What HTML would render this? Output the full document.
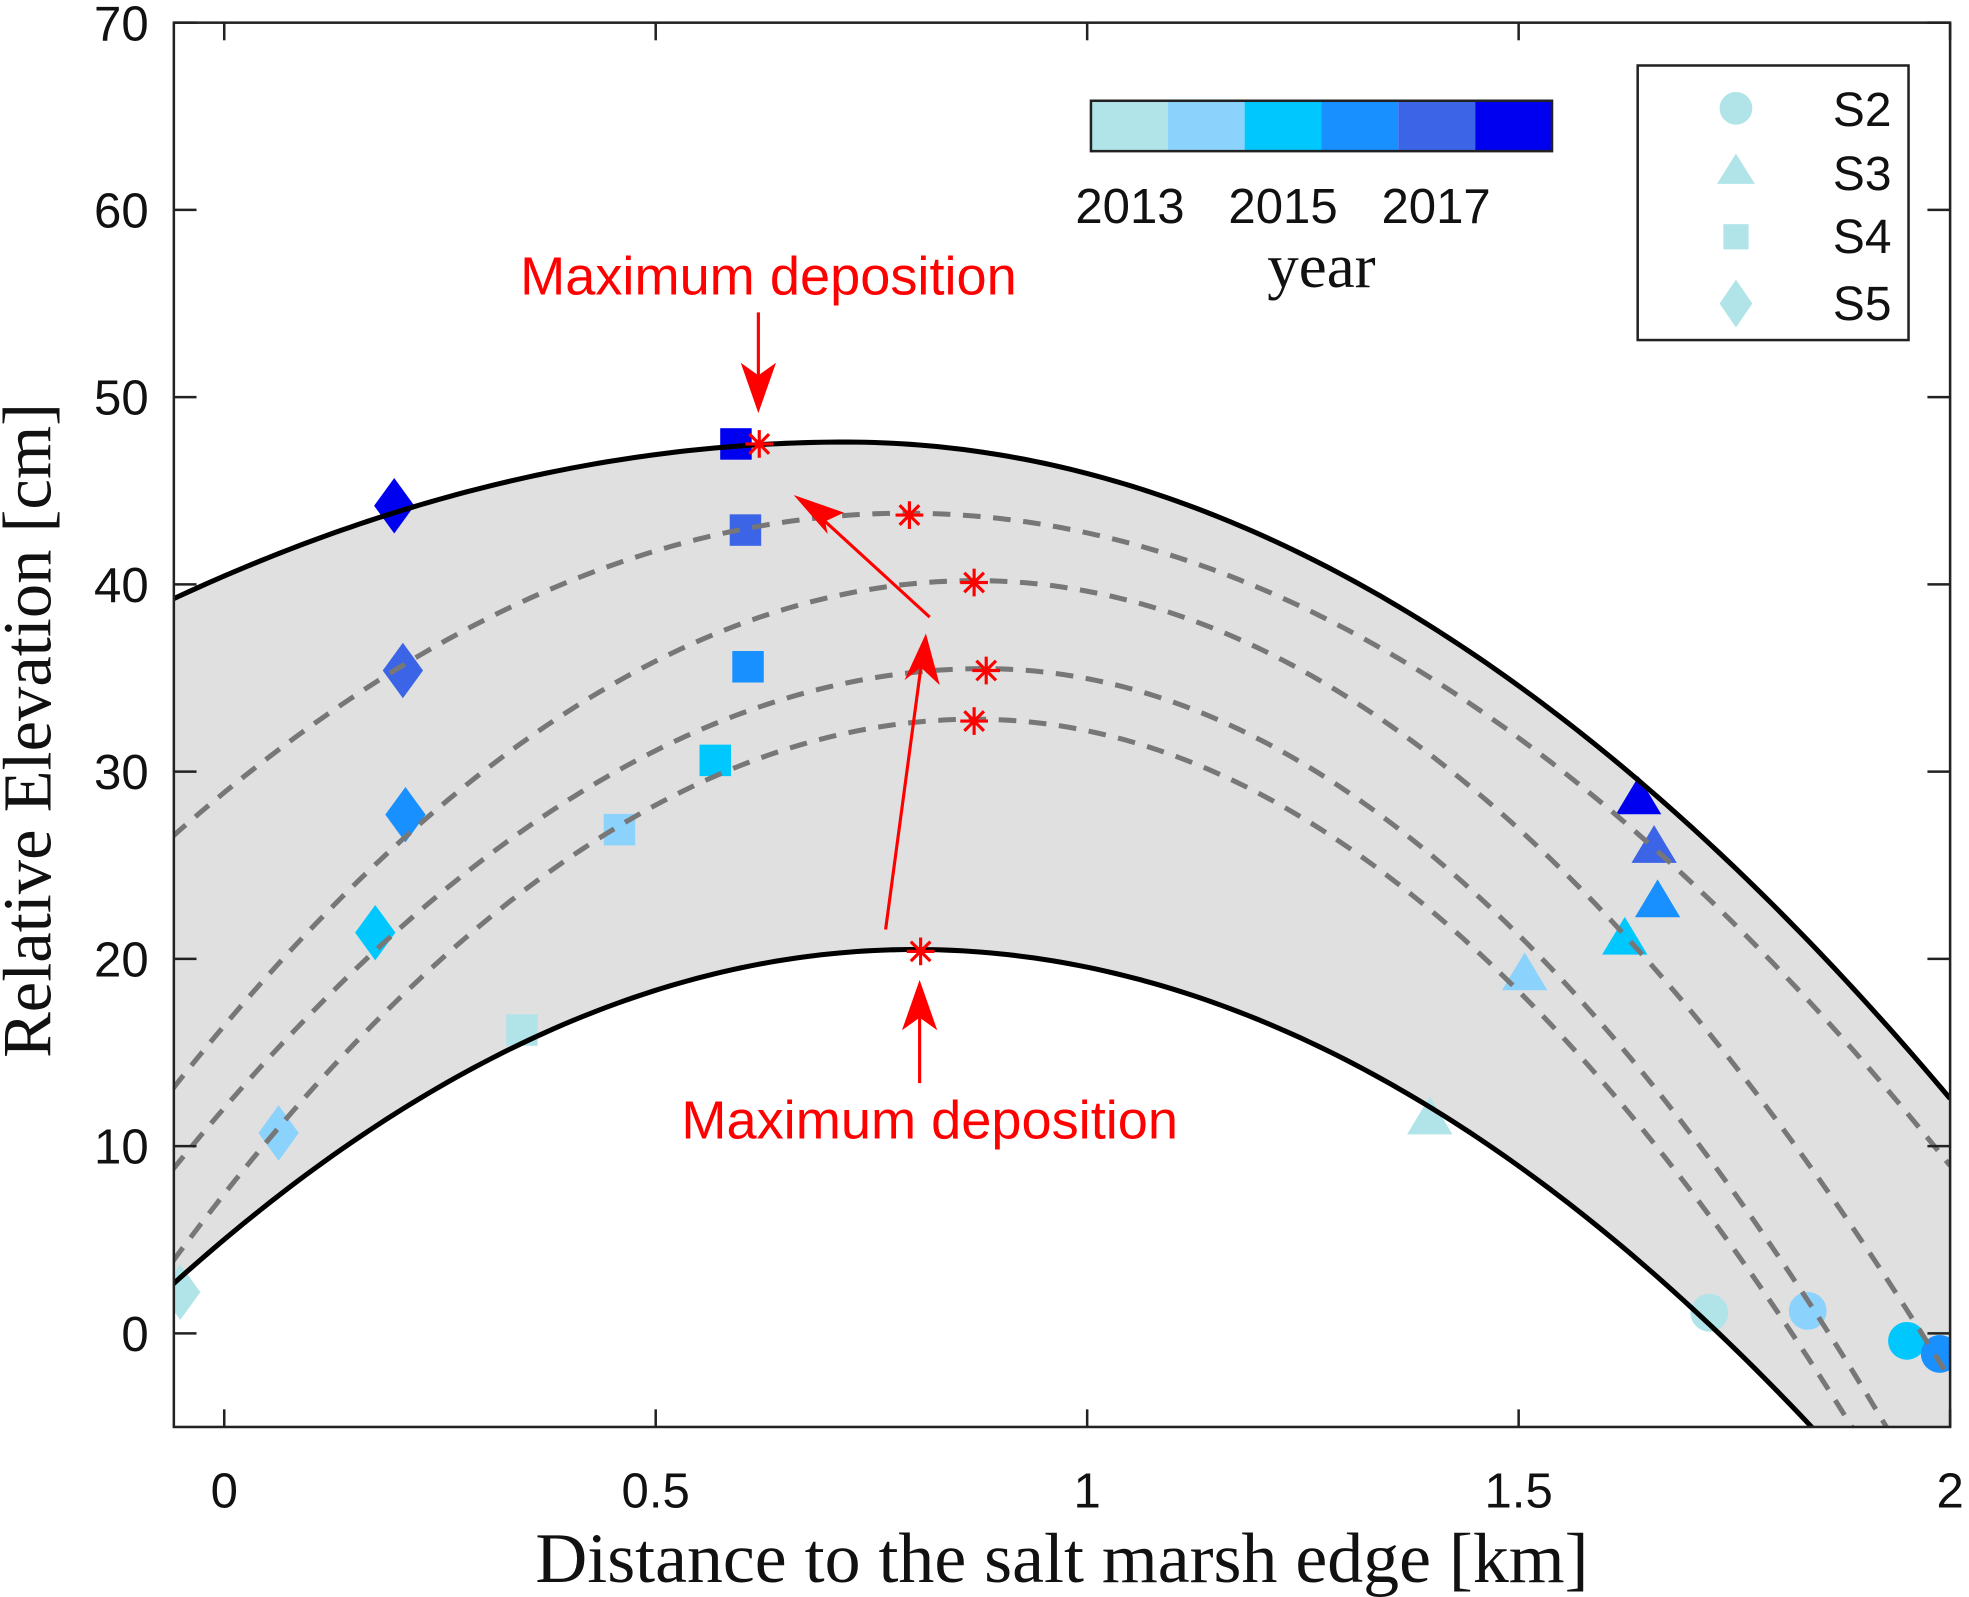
<!DOCTYPE html>
<html><head><meta charset="utf-8"><style>
html,body{margin:0;padding:0;background:#fff;}
svg{display:block;}
text{font-family:"Liberation Sans",Arial,sans-serif;}
.serif{font-family:"Liberation Serif","DejaVu Serif",serif;}
</style></head><body>
<svg id="chart" width="1969" height="1597" viewBox="0 0 1563 1268" preserveAspectRatio="none" xmlns="http://www.w3.org/2000/svg">
<defs><clipPath id="plotclip"><rect x="138" y="18" width="1410" height="1115"/></clipPath></defs>
<g id="plot" clip-path="url(#plotclip)"></g>
<g id="axes"></g>
<g id="overlay"></g>
</svg>
<script>
const yearColors=['#b0e4e8','#8bd2fc','#00c8ff','#1890ff','#3c64e6','#0000f0'];
const yearLabels=['2013','2015','2017'];
const xTicks=[0,0.5,1,1.5,2];
const yTicks=[0,10,20,30,40,50,60,70];
// envelope curves: [peakX, peakY, leftCurvature, rightCurvature]
const upperCurve=[0.72,47.6,13.8,21.4];
const lowerCurve=[0.8,20.5,24.2,23.6];
const dashedCurves=[[0.79,43.8,23.9,23.8],[0.87,40.2,31.4,33.4],[0.88,35.5,30.3,37],[0.87,32.8,33.5,36.6]];
// series: x (km), y (cm), year index
const s2x=[1.721,1.835,1.95,1.988], s2y=[1.1,1.2,-0.4,-1.1], s2yr=[0,1,2,3];
const s3x=[1.397,1.507,1.623,1.661,1.657,1.639], s3y=[11.5,19.2,21.1,23.1,26.0,28.6], s3yr=[0,1,2,3,4,5];
const s4x=[0.345,0.458,0.569,0.607,0.604,0.593], s4y=[16.2,26.9,30.6,35.6,42.9,47.5], s4yr=[0,1,2,3,4,5];
const s5x=[-0.051,0.063,0.175,0.21,0.207,0.197], s5y=[2.2,10.7,21.4,27.7,35.4,44.2], s5yr=[0,1,2,3,4,5];
const starX=[0.62,0.794,0.869,0.883,0.869,0.807], starY=[47.5,43.7,40.1,35.4,32.7,20.4];

const NS='http://www.w3.org/2000/svg';
const X=v=>178+685*v, Y=v=>1133-(v+5)*14.867;
const XMIN=-0.06, XMAX=2.0;
function mk(tag,attrs,parent,txt){const e=document.createElementNS(NS,tag);for(const k in attrs)e.setAttribute(k,attrs[k]);if(txt!==undefined)e.textContent=txt;parent.appendChild(e);return e;}
function cv(c,x){const d=x-c[0];return c[1]-(d<0?c[2]:c[3])*d*d;}
function pts(c){const a=[];for(let i=0;i<=200;i++){const x=XMIN+(XMAX-XMIN)*i/200;a.push([X(x),Y(cv(c,x))]);}return a;}
const plot=document.getElementById('plot'),axes=document.getElementById('axes'),ov=document.getElementById('overlay');
const up=pts(upperCurve),lo=pts(lowerCurve);
const band=mk('path',{d:'M'+up.map(p=>p.join(',')).join('L')+'L'+lo.slice().reverse().map(p=>p.join(',')).join('L')+'Z',fill:'#e0e0e0'},plot);


const markerG=mk('g',{},plot);
function marker(shape,x,y,yr){
  const cx=X(x),cy=Y(y),c=yearColors[yr];let e;
  if(shape==='circle')e=mk('circle',{cx:cx,cy:cy,r:15,fill:c},markerG);
  else if(shape==='tri')e=mk('path',{d:`M${cx},${cy-17}L${cx+18},${cy+13}L${cx-18},${cy+13}Z`,fill:c},markerG);
  else if(shape==='sq')e=mk('rect',{x:cx-12.5,y:cy-12.5,width:25,height:25,fill:c},markerG);
  else e=mk('path',{d:`M${cx},${cy-22}L${cx+16},${cy}L${cx},${cy+22}L${cx-16},${cy}Z`,fill:c},markerG);
  return e;
}
s2x.forEach((v,i)=>{const e=marker('circle',v,s2y[i],s2yr[i]);

});
s3x.forEach((v,i)=>{const e=marker('tri',v,s3y[i],s3yr[i]);

});
s4x.forEach((v,i)=>{const e=marker('sq',v,s4y[i],s4yr[i]);

});
s5x.forEach((v,i)=>{const e=marker('dia',v,s5y[i],s5yr[i]);

});
dashedCurves.forEach(c=>{const e=mk('polyline',{points:pts(c).map(p=>p.join(',')).join(' '),fill:'none',stroke:'#777','stroke-width':4,'stroke-dasharray':'14 10'},plot);

});
[up,lo].forEach(p=>{const e=mk('polyline',{points:p.map(q=>q.join(',')).join(' '),fill:'none',stroke:'#000','stroke-width':4},plot);

});
starX.forEach((v,i)=>{const cx=X(v),cy=Y(starY[i]);const g=mk('g',{stroke:'#f00','stroke-width':2.5},plot);


for(let k=0;k<4;k++){const a=k*Math.PI/4;mk('line',{x1:cx-11*Math.cos(a),y1:cy-11*Math.sin(a),x2:cx+11*Math.cos(a),y2:cy+11*Math.sin(a)},g);}});
// axes frame & ticks
mk('rect',{x:138,y:18,width:1410,height:1115,fill:'none',stroke:'#222','stroke-width':2},axes);
xTicks.forEach(t=>{const x=X(t);mk('line',{x1:x,y1:1133,x2:x,y2:1119,stroke:'#222','stroke-width':2},axes);mk('line',{x1:x,y1:18,x2:x,y2:32,stroke:'#222','stroke-width':2},axes);
const l=mk('text',{x:x,y:1197,'font-size':39,'text-anchor':'middle',fill:'#111'},axes,String(t));

});
yTicks.forEach(t=>{const y=Y(t);mk('line',{x1:138,y1:y,x2:156,y2:y,stroke:'#222','stroke-width':2},axes);mk('line',{x1:1548,y1:y,x2:1530,y2:y,stroke:'#222','stroke-width':2},axes);
const l=mk('text',{x:118,y:y+14,'font-size':39,'text-anchor':'end',fill:'#111'},axes,String(t));

});
// colorbar
yearColors.forEach((c,i)=>{const r=mk('rect',{x:866+i*61,y:80,width:61,height:40,fill:c},ov);

});
mk('rect',{x:866,y:80,width:366,height:40,fill:'none',stroke:'#222','stroke-width':2},ov);
yearLabels.forEach((t,i)=>{const l=mk('text',{x:897+i*121.5,y:177,'font-size':39,'text-anchor':'middle',fill:'#111'},ov,t);

});
</script>
<svg style="position:absolute;left:0;top:0" width="1969" height="1597" viewBox="0 0 1563 1268" preserveAspectRatio="none" xmlns="http://www.w3.org/2000/svg">
<text class="serif" x="1049" y="228" font-size="50" text-anchor="middle" fill="#111">year</text>
<g>
<rect x="1300" y="52" width="215" height="218" fill="#fff" stroke="#222" stroke-width="2"/>
<circle cx="1378" cy="86" r="13" fill="#b0e4e8"/>
<path d="M1378,122L1393,146L1363,146Z" fill="#b0e4e8"/>
<rect x="1368" y="178" width="20" height="20" fill="#b0e4e8"/>
<path d="M1378,222L1391,241L1378,260L1365,241Z" fill="#b0e4e8"/>
<text x="1455" y="100" font-size="38" fill="#111">S2</text>
<text x="1455" y="151" font-size="38" fill="#111">S3</text>
<text x="1455" y="201" font-size="38" fill="#111">S4</text>
<text x="1455" y="254" font-size="38" fill="#111">S5</text>
</g>
<g fill="#f00" stroke="#f00" stroke-width="2.5">
<text x="610" y="234" font-size="43" text-anchor="middle" stroke="none">Maximum deposition</text>
<line x1="602" y1="248" x2="602" y2="300"/><path d="M602,328L588,288L602,298L616,288Z" stroke="none"/>
<text x="738" y="904" font-size="43" text-anchor="middle" stroke="none">Maximum deposition</text>
<line x1="730" y1="860" x2="730" y2="805"/><path d="M730,778L716,818L730,808L744,818Z" stroke="none"/>
<line x1="738" y1="490" x2="655" y2="414"/><path d="M630,393L670,407L655,414L657,424Z" stroke="none"/>
<line x1="703" y1="738" x2="731" y2="530"/><path d="M735,503L746,544L731,530L718,540Z" stroke="none"/>
</g>
<text class="serif" x="843" y="1256" font-size="56" text-anchor="middle" fill="#111" textLength="836" lengthAdjust="spacingAndGlyphs">Distance to the salt marsh edge [km]</text>
<text class="serif" transform="translate(40,580) rotate(-90)" font-size="55" text-anchor="middle" fill="#111" textLength="520" lengthAdjust="spacingAndGlyphs">Relative Elevation [cm]</text>
</svg>
</body></html>
